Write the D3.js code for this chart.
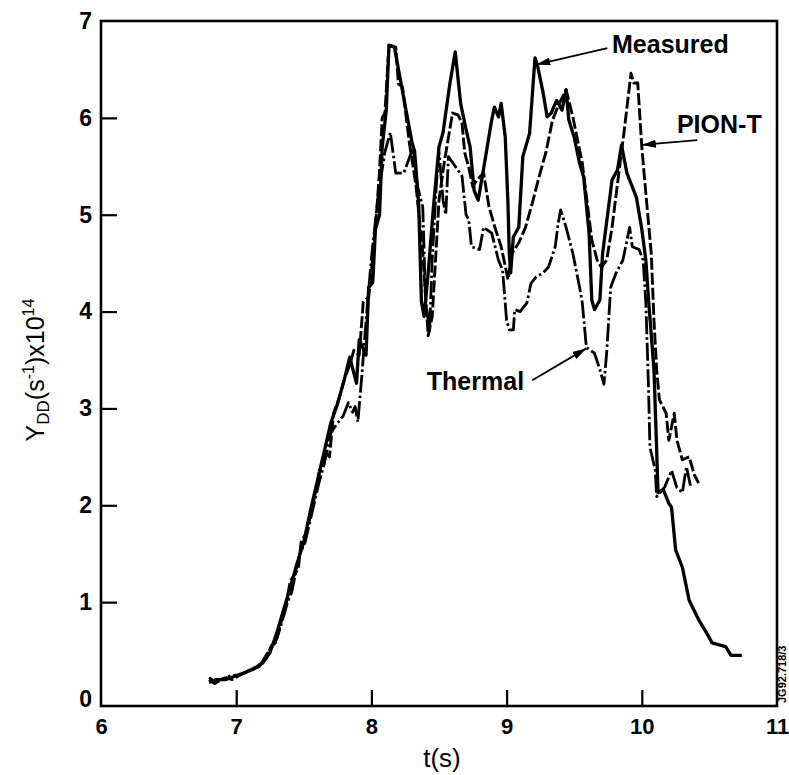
<!DOCTYPE html>
<html>
<head>
<meta charset="utf-8">
<script src="https://cdn.jsdelivr.net/npm/d3@7"></script>
<style>
  html, body { margin: 0; padding: 0; background: #fff; }
  svg { display: block; font-family: "Liberation Sans", Arial, sans-serif; }
</style>
</head>
<body>
<svg id="grafico"></svg>
<script>
const ancho = 789;
const alto = 775;

// ejes
const ticksX = [6, 7, 8, 9, 10, 11];
const ticksY = [0, 1, 2, 3, 4, 5, 6, 7];

// series [t (s), Y_DD x1e14]
const medido = [
  [6.80,0.17],[6.85,0.20],[6.92,0.20],[7.00,0.24],[7.08,0.28],[7.15,0.33],[7.20,0.38],[7.25,0.48],
  [7.30,0.68],[7.35,0.92],[7.40,1.15],[7.45,1.40],[7.50,1.62],[7.55,1.95],[7.60,2.25],[7.65,2.55],
  [7.70,2.85],[7.75,3.05],[7.80,3.30],[7.84,3.53],[7.89,3.26],[7.91,3.71],[7.96,3.55],[7.98,4.25],
  [8.01,4.30],[8.03,4.85],[8.06,5.00],[8.08,5.70],[8.11,6.08],[8.13,6.75],[8.17,6.73],[8.24,6.20],
  [8.30,5.75],[8.32,5.65],[8.35,5.10],[8.37,4.10],[8.39,3.95],[8.42,4.40],[8.46,5.10],[8.50,5.70],
  [8.53,5.85],[8.58,6.35],[8.62,6.68],[8.66,6.15],[8.70,5.88],[8.73,5.70],[8.76,5.25],[8.79,5.15],
  [8.84,5.56],[8.89,5.98],[8.91,6.11],[8.94,6.01],[8.96,6.15],[8.99,5.80],[9.01,5.12],[9.02,4.60],
  [9.03,4.40],[9.05,4.77],[9.09,4.87],[9.12,5.60],[9.17,5.84],[9.21,6.62],[9.23,6.53],[9.27,6.26],
  [9.30,6.01],[9.33,6.05],[9.37,6.18],[9.41,6.08],[9.44,6.29],[9.46,5.98],[9.50,5.80],[9.54,5.53],
  [9.57,5.39],[9.61,4.81],[9.63,4.12],[9.65,4.02],[9.69,4.12],[9.71,4.60],[9.78,5.36],[9.82,5.46],
  [9.85,5.72],[9.89,5.43],[9.96,5.18],[10.00,4.85],[10.03,4.53],[10.05,4.12],[10.09,3.40],[10.11,2.57],
  [10.12,2.13],[10.16,2.16],[10.20,2.02],[10.22,1.98],[10.25,1.54],[10.30,1.36],[10.35,1.02],[10.42,0.82],
  [10.48,0.68],[10.52,0.58],[10.62,0.54],[10.66,0.45],[10.74,0.45]
];

const pionT = [
  [6.80,0.20],[6.84,0.16],[6.88,0.19],[6.93,0.22],[6.97,0.20],[7.03,0.25],[7.10,0.29],[7.18,0.34],
  [7.22,0.42],[7.26,0.55],[7.29,0.58],[7.33,0.78],[7.37,0.98],[7.40,1.22],[7.43,1.28],[7.46,1.35],
  [7.48,1.62],[7.52,1.72],[7.57,2.02],[7.62,2.38],[7.66,2.55],[7.69,2.50],[7.72,2.95],[7.76,3.10],
  [7.80,3.30],[7.84,3.45],[7.87,3.60],[7.91,3.55],[7.94,4.10],[7.98,4.15],[8.01,4.55],[8.04,5.05],
  [8.06,5.45],[8.08,6.00],[8.10,6.05],[8.13,6.75],[8.18,6.73],[8.20,6.35],[8.23,6.32],[8.28,5.75],
  [8.33,5.30],[8.38,4.60],[8.42,3.75],[8.45,3.95],[8.50,5.15],[8.54,5.55],[8.60,6.05],[8.64,6.03],
  [8.67,5.95],[8.69,5.64],[8.72,5.49],[8.75,5.29],[8.78,5.36],[8.83,5.43],[8.87,5.08],[8.92,4.84],
  [8.96,4.67],[9.00,4.40],[9.01,4.33],[9.04,4.60],[9.09,4.71],[9.14,4.87],[9.19,5.12],[9.24,5.39],
  [9.29,5.64],[9.34,5.98],[9.39,6.15],[9.44,6.29],[9.49,6.01],[9.56,5.53],[9.60,5.08],[9.63,4.74],
  [9.67,4.53],[9.70,4.46],[9.74,4.53],[9.78,4.87],[9.83,5.43],[9.87,5.87],[9.92,6.46],[9.94,6.36],
  [9.97,6.36],[10.00,5.70],[10.03,5.22],[10.07,4.60],[10.09,3.91],[10.11,3.40],[10.13,3.09],[10.18,2.95],
  [10.20,2.67],[10.24,2.95],[10.26,2.67],[10.30,2.47],[10.35,2.50],[10.39,2.31],[10.42,2.23]
];

const termico = [
  [6.80,0.22],[6.84,0.18],[6.90,0.21],[6.96,0.24],[7.03,0.25],[7.10,0.30],[7.18,0.35],[7.22,0.45],
  [7.27,0.55],[7.30,0.62],[7.35,0.85],[7.38,1.00],[7.41,1.10],[7.44,1.30],[7.47,1.50],[7.51,1.62],
  [7.56,1.92],[7.61,2.22],[7.65,2.42],[7.70,2.75],[7.75,2.85],[7.79,2.92],[7.83,3.06],[7.86,2.96],
  [7.88,3.02],[7.90,2.86],[7.93,3.35],[7.96,3.90],[8.00,4.55],[8.05,5.20],[8.10,5.65],[8.14,5.85],
  [8.18,5.43],[8.24,5.43],[8.31,5.70],[8.34,5.30],[8.38,5.08],[8.40,4.12],[8.43,3.80],[8.45,4.55],
  [8.48,5.30],[8.50,5.65],[8.53,5.15],[8.55,5.00],[8.57,5.60],[8.62,5.50],[8.67,5.40],[8.70,5.00],
  [8.72,4.95],[8.74,4.67],[8.80,4.64],[8.83,4.87],[8.89,4.81],[8.94,4.53],[8.97,4.43],[9.00,3.91],
  [9.02,3.81],[9.05,3.81],[9.06,4.02],[9.10,4.00],[9.15,4.09],[9.18,4.29],[9.22,4.36],[9.27,4.40],
  [9.31,4.46],[9.36,4.67],[9.38,4.90],[9.40,5.05],[9.44,4.87],[9.49,4.60],[9.54,4.25],[9.56,4.09],
  [9.59,3.63],[9.65,3.57],[9.69,3.40],[9.72,3.25],[9.74,3.57],[9.77,4.25],[9.81,4.40],[9.86,4.53],
  [9.91,4.87],[9.93,4.67],[9.98,4.64],[10.01,4.53],[10.03,4.09],[10.05,3.20],[10.06,2.60],[10.10,2.36],
  [10.11,2.09],[10.17,2.19],[10.22,2.36],[10.26,2.18],[10.30,2.13],[10.33,2.40],[10.36,2.20]
];

// etiquetas con flecha: texto en (t, y), flecha de (t0, y0) a (t1, y1)
const etiquetas = [
  { texto: "Measured", t: 9.78, y: 6.67, t0: 9.745, y0: 6.72, t1: 9.22, y1: 6.55 },
  { texto: "PION-T", t: 10.26, y: 5.84, t0: 10.41, y0: 5.77, t1: 10.0, y1: 5.72 },
  { texto: "Thermal", t: 8.41, y: 3.19, t0: 9.19, y0: 3.29, t1: 9.59, y1: 3.62 }
];

const marco = { izq: 101, der: 777, arriba: 21, abajo: 706 };

const svg = d3.select("#grafico").attr("width", ancho).attr("height", alto);

const x = d3.scaleLinear().domain([6, 11]).range([marco.izq, marco.der]);
const y = d3.scaleLinear().domain([0, 7]).range([699, marco.arriba]);

const defs = svg.append("defs");
defs.append("marker")
  .attr("id", "punta")
  .attr("viewBox", "0 0 14 8")
  .attr("refX", 14)
  .attr("refY", 4)
  .attr("markerWidth", 14)
  .attr("markerHeight", 8)
  .attr("markerUnits", "userSpaceOnUse")
  .attr("orient", "auto")
  .append("path")
  .attr("d", "M0,0 L14,4 L0,8 Z")
  .attr("fill", "#000");

// ejes
const ejeX = d3.axisBottom(x).tickValues(ticksX).tickSizeInner(-16).tickSizeOuter(0).tickPadding(12)
  .tickFormat(d3.format("d"));
const ejeY = d3.axisLeft(y).tickValues(ticksY).tickSizeInner(-16).tickSizeOuter(0).tickPadding(9)
  .tickFormat(d3.format("d"));

const gX = svg.append("g").attr("transform", `translate(0,${marco.abajo})`).call(ejeX);
const gY = svg.append("g").attr("transform", `translate(${marco.izq},0)`).call(ejeY);

[gX, gY].forEach(g => {
  g.select(".domain").remove();
  g.selectAll("line").attr("stroke", "#000").attr("stroke-width", 2.2);
  g.selectAll("text")
    .attr("fill", "#000")
    .attr("font-family", "Liberation Sans, Arial, sans-serif")
    .attr("font-weight", "bold");
});
gX.selectAll("text").attr("font-size", 22);
gY.selectAll("text").attr("font-size", 23);
gY.selectAll(".tick").filter(d => d === 0 || d === 7).select("line").remove();
gX.selectAll(".tick").filter(d => d === 6 || d === 11).select("line").remove();

svg.append("rect")
  .attr("x", marco.izq)
  .attr("y", marco.arriba)
  .attr("width", marco.der - marco.izq)
  .attr("height", marco.abajo - marco.arriba)
  .attr("fill", "none")
  .attr("stroke", "#000")
  .attr("stroke-width", 2.6);

// curvas
const linea = d3.line().x(d => x(d[0])).y(d => y(d[1]));

const series = [
  { datos: termico, ancho: 2.8, guiones: "18 3 2.5 3" },
  { datos: pionT, ancho: 2.9, guiones: "12 3" },
  { datos: medido, ancho: 3.3, guiones: null }
];

svg.append("g").selectAll("path")
  .data(series)
  .join("path")
  .attr("d", d => linea(d.datos))
  .attr("fill", "none")
  .attr("stroke", "#000")
  .attr("stroke-width", d => d.ancho)
  .attr("stroke-linejoin", "round")
  .attr("stroke-dasharray", d => d.guiones);

// etiquetas
const gEt = svg.append("g");
gEt.selectAll("text")
  .data(etiquetas)
  .join("text")
  .attr("x", d => x(d.t))
  .attr("y", d => y(d.y))
  .attr("font-size", 25)
  .attr("font-weight", "bold")
  .attr("fill", "#000")
  .text(d => d.texto);

gEt.selectAll("line")
  .data(etiquetas)
  .join("line")
  .attr("x1", d => x(d.t0))
  .attr("y1", d => y(d.y0))
  .attr("x2", d => x(d.t1))
  .attr("y2", d => y(d.y1))
  .attr("stroke", "#000")
  .attr("stroke-width", 1.8)
  .attr("marker-end", "url(#punta)");

// títulos de ejes
svg.append("text")
  .attr("x", 442)
  .attr("y", 767)
  .attr("text-anchor", "middle")
  .attr("font-size", 26)
  .attr("fill", "#000")
  .text("t(s)");

const tituloY = svg.append("text")
  .attr("transform", "translate(44,370) rotate(-90)")
  .attr("text-anchor", "middle")
  .attr("font-size", 25)
  .attr("fill", "#000");
tituloY.append("tspan").text("Y");
tituloY.append("tspan").attr("font-size", 17).attr("dy", 5).text("DD");
tituloY.append("tspan").attr("dy", -5).text("(s");
tituloY.append("tspan").attr("font-size", 16).attr("dy", -10).text("-1");
tituloY.append("tspan").attr("dy", 10).text(")x10");
tituloY.append("tspan").attr("font-size", 16).attr("dy", -10).text("14");

// referencia lateral
svg.append("text")
  .attr("transform", "translate(786,703) rotate(-90)")
  .attr("font-size", 11)
  .attr("font-weight", "bold")
  .attr("fill", "#000")
  .text("JG92.718/3");
</script>
</body>
</html>
